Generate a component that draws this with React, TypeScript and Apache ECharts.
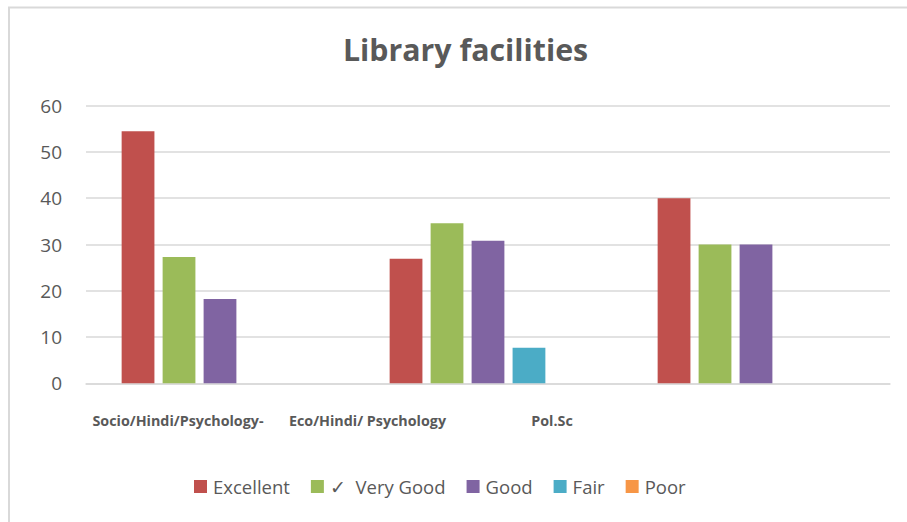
import React, { useEffect, useRef } from "react";
import * as echarts from "echarts";

const categories = ["Socio/Hindi/Psychology-", "Eco/Hindi/ Psychology", "Pol.Sc"];
const labelShift = [84, 241, 408];
const seriesNames = ["Excellent", "✓  Very Good", "Good", "Fair", "Poor"];
const excellent = [54.5, 26.9, 40];
const veryGood = [27.3, 34.6, 30];
const good = [18.2, 30.8, 30];
const fair = [0, 7.7, 0];
const poor = [0, 0, 0];
const yTicks = { min: 0, max: 60, interval: 10 };
const colors = ["#C0504D", "#9BBB59", "#8064A2", "#4BACC6", "#F79646"];

const TEXT = "#595959";

export default function App() {
  const ref = useRef<HTMLDivElement>(null);
  useEffect(() => {
    if (!ref.current) return;
    const chart = echarts.init(ref.current, undefined, { renderer: "svg" });
    const values = [excellent, veryGood, good, fair, poor];
    chart.setOption({
      animation: false,
      backgroundColor: "#ffffff",
      color: colors,
      title: {
        text: "Library facilities",
        left: 338,
        top: 29,
        textStyle: { fontFamily: "Open Sans", fontWeight: "bold", fontSize: 30.3, color: TEXT },
      },
      graphic: [
        { type: "line", shape: { x1: 8, y1: 7.5, x2: 907, y2: 7.5 }, style: { stroke: "#d9d9d9", lineWidth: 2 } },
        { type: "line", shape: { x1: 9, y1: 7, x2: 9, y2: 522 }, style: { stroke: "#d9d9d9", lineWidth: 2 } },
      ],
      legend: {
        bottom: 21,
        left: 189,
        icon: "rect",
        itemWidth: 13,
        itemHeight: 13,
        itemGap: 21,
        textStyle: { fontFamily: "Open Sans", fontSize: 18.5, color: TEXT, padding: [0, 0, 0, 1] },
        data: seriesNames,
      },
      grid: { left: 86, right: 17, top: 105.7, bottom: 138.7, containLabel: false },
      xAxis: {
        type: "category",
        data: categories.map((c, i) => ({
          value: c,
          textStyle: { padding: [0, labelShift[i], 0, 0] },
        })),
        axisLine: { lineStyle: { color: "#d9d9d9", width: 1.5 } },
        axisTick: { show: false },
        axisLabel: {
          margin: 30,
          fontFamily: "Open Sans",
          fontWeight: "bold",
          fontSize: 14.3,
          color: TEXT,
        },
      },
      yAxis: {
        type: "value",
        min: yTicks.min,
        max: yTicks.max,
        interval: yTicks.interval,
        axisLine: { show: false },
        axisTick: { show: false },
        splitLine: { lineStyle: { color: "#d9d9d9", width: 1.5 } },
        axisLabel: { margin: 24, fontFamily: "Open Sans", fontSize: 19, color: TEXT },
      },
      series: seriesNames.map((name, i) => ({
        name,
        type: "bar",
        data: values[i],
        barGap: "25%",
        barCategoryGap: "26.6%",
        itemStyle: { color: colors[i] },
      })),
    });
    return () => chart.dispose();
  }, []);
  return (
    <div
      ref={ref}
      style={{ position: "fixed", left: 0, top: 0, width: 907, height: 522 }}
    />
  );
}
